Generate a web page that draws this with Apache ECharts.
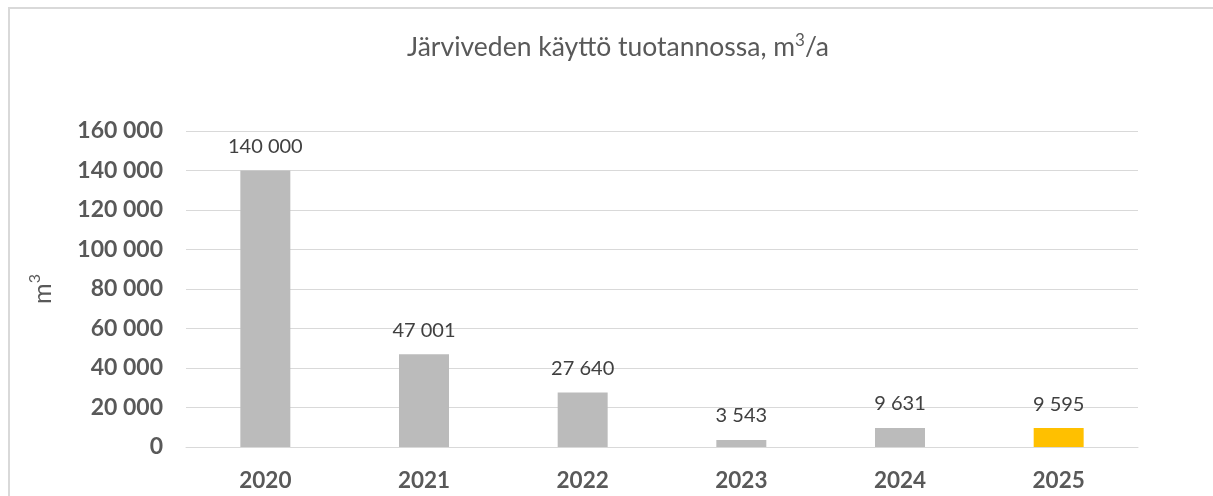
<!DOCTYPE html>
<html>
<head>
<meta charset="utf-8">
<script src="https://cdn.jsdelivr.net/npm/echarts@6/dist/echarts.min.js"></script>
<style>
	html, body { margin: 0; padding: 0; background: #fff; }
	#main { width: 1213px; height: 496px; }
</style>
</head>
<body>
<div id="main"></div>
<script>
// data
const years = ['2020', '2021', '2022', '2023', '2024', '2025']
const usage = [140000, 47001, 27640, 3543, 9631, 9595]
const barColors = ['#BBBBBB', '#BBBBBB', '#BBBBBB', '#BBBBBB', '#BBBBBB', '#FFC000']
const yTicks = [0, 20000, 40000, 60000, 80000, 100000, 120000, 140000, 160000]

const font = 'Lato'

function fmt(v) {
	return String(v).replace(/\B(?=(\d{3})+(?!\d))/g, ' ')
}

const chart = echarts.init(document.getElementById('main'), null, { renderer: 'canvas' })

const option = {
	animation: false,
	backgroundColor: '#fff',
	title: {
		text: '{a|Järviveden käyttö tuotannossa, m}{s|3}{a|/a}',
		left: 613,
		top: 26,
		textAlign: 'center',
		textStyle: {
			fontFamily: font,
			fontSize: 26.5,
			fontWeight: 'normal',
			color: '#595959',
			rich: {
				a: { fontFamily: font, fontSize: 26.5, color: '#595959', lineHeight: 30, verticalAlign: 'bottom' },
				s: { fontFamily: font, fontSize: 17, color: '#595959', lineHeight: 30, verticalAlign: 'top', padding: [1, 0, 0, 0] }
			}
		}
	},
	graphic: [{
		type: 'rect',
		shape: { x: 9, y: 8, width: 1210, height: 500 },
		style: { fill: 'none', stroke: '#D9D9D9', lineWidth: 2 },
		silent: true
	}],
	grid: {
		left: 186,
		right: 75,
		top: 131,
		bottom: 49
	},
	xAxis: {
		type: 'category',
		data: years,
		axisLine: { lineStyle: { color: '#D9D9D9', width: 1 } },
		axisTick: { show: false },
		axisLabel: {
			margin: 22,
			fontFamily: font,
			fontSize: 22.5,
			fontWeight: 'bold',
			color: '#595959'
		}
	},
	yAxis: {
		type: 'value',
		min: yTicks[0],
		max: yTicks[yTicks.length - 1],
		interval: yTicks[1] - yTicks[0],
		name: '{a|m}{s|3}',
		nameLocation: 'middle',
		nameGap: 131,
		nameTextStyle: {
			fontFamily: font,
			fontSize: 24,
			color: '#595959',
			rich: {
				a: { fontFamily: font, fontSize: 25, color: '#595959', lineHeight: 30, verticalAlign: 'bottom' },
				s: { fontFamily: font, fontSize: 16, color: '#595959', lineHeight: 30, verticalAlign: 'top', padding: [2, 0, 0, 0] }
			}
		},
		axisLine: { show: false },
		axisTick: { show: false },
		splitLine: { lineStyle: { color: '#D9D9D9', width: 1 } },
		axisLabel: {
			margin: 23,
			fontFamily: font,
			fontSize: 23,
			fontWeight: 'bold',
			color: '#595959',
			formatter: fmt
		}
	},
	series: [{
		type: 'bar',
		barWidth: '31.5%',
		data: usage.map(function (v, i) {
			return { value: v, itemStyle: { color: barColors[i] } }
		}),
		label: {
			show: true,
			position: 'top',
			distance: 14,
			fontFamily: font,
			fontSize: 20,
			color: '#404040',
			formatter: function (p) { return fmt(p.value) }
		}
	}]
}

chart.setOption(option)
</script>
</body>
</html>
